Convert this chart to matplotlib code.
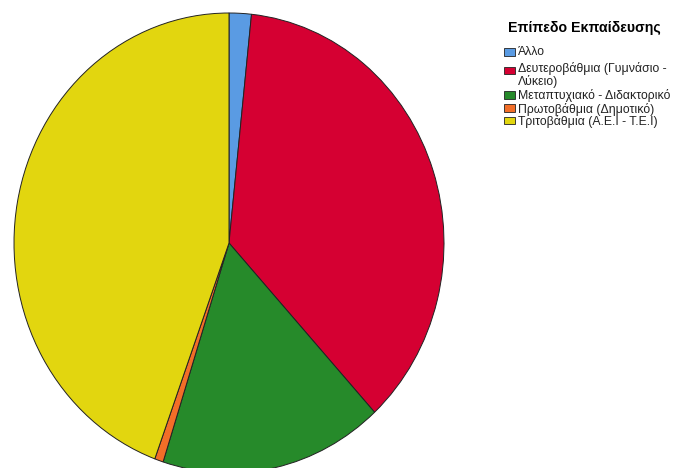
import matplotlib
matplotlib.use("Agg")
import matplotlib.pyplot as plt
from matplotlib.patches import Rectangle

plt.rcParams['font.family'] = ['Liberation Sans', 'DejaVu Sans']

# δεδομένα (ποσοστά, εκτίμηση από το γράφημα)
labels = ['Άλλο', 'Δευτεροβάθμια (Γυμνάσιο -\nΛύκειο)', 'Μεταπτυχιακό - Διδακτορικό',
          'Πρωτοβάθμια (Δημοτικό)', 'Τριτοβάθμια (Α.Ε.Ι - Τ.Ε.Ι)']
values = [1.67, 36.5, 16.8, 0.65, 44.4]
colors = ['#5a9be3', '#d50032', '#268a2a', '#f26e28', '#e2d60f']
legend_title = 'Επίπεδο Εκπαίδευσης'

W, H = 679, 468
fig = plt.figure(figsize=(W / 100, H / 100), dpi=100)

# η πίτα είναι ελαφρώς ελλειπτική και κόβεται στο κάτω μέρος
cx, cy, rx, ry = 229, 243, 215, 230
ax = fig.add_axes([(cx - rx) / W, 1 - (cy + ry) / H, 2 * rx / W, 2 * ry / H])
ax.pie(values, colors=colors, startangle=90, counterclock=False,
       wedgeprops=dict(edgecolor='#222222', linewidth=0.7))
ax.set_aspect('auto')
ax.set_xlim(-1, 1)
ax.set_ylim(-1, 1)
ax.axis('off')

# υπόμνημα
fig.text(508 / W, 1 - 28 / H, legend_title, fontsize=10.2, fontweight='bold',
         va='center', ha='left')
box_y = [52, 70.5, 94.7, 108, 120.3]
txt_y = [52, 75, 96, 109, 121.3]
for lab, col, by, ty in zip(labels, colors, box_y, txt_y):
    fig.patches.append(Rectangle((504 / W, 1 - (by + 3.8) / H), 11 / W, 7.6 / H,
                                 transform=fig.transFigure, facecolor=col,
                                 edgecolor='#222222', linewidth=0.6))
    fig.text(517.5 / W, 1 - ty / H, lab, fontsize=8.8, va='center', ha='left',
             linespacing=0.93, color='#222222')

fig.savefig('out.png', dpi=100)
